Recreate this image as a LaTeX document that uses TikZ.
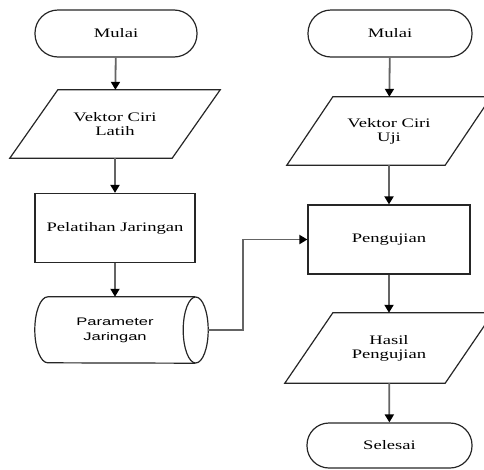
\documentclass[tikz,border=0pt]{standalone}
\usepackage{fontspec}
\setmainfont{Liberation Serif}[FakeStretch=1.43]
\newfontfamily\cylfont{Liberation Sans}[FakeStretch=1.5]
\usetikzlibrary{arrows.meta}
\begin{document}
\begin{tikzpicture}[x=1pt,y=-1pt,
  box/.style={draw=black!85,line width=1.2pt},
  txt/.style={font=\fontsize{13}{14}\selectfont,align=center,inner sep=0pt},
  term/.style={box,txt,rounded corners=23pt,minimum width=162pt,minimum height=47pt},
  proc/.style={box,txt,minimum width=160pt,minimum height=69pt},
  para/.style={txt,minimum width=160pt,minimum height=68pt},
  conn/.style={draw={rgb,255:red,100;green,100;blue,100},line width=1.8pt,
    -{Triangle[length=8pt,width=9pt,fill=black,color=black]}}]
\useasboundingbox (0,0) rectangle (484,469);
% left column
\node[term] (m1) at (116,33.5) {Mulai};
\node[para,minimum width=162pt] (lat) at (115,124) {Vektor Ciri\\Latih};
\draw[box] ([xshift=24pt]lat.north west) -- ([xshift=24pt]lat.north east)
  -- ([xshift=-24pt]lat.south east) -- ([xshift=-24pt]lat.south west) -- cycle;
\node[proc] (pel) at (115,228) {Pelatihan Jaringan};
\node[minimum width=160pt,minimum height=66pt,inner sep=0pt,
  font=\cylfont\fontsize{11}{15}\selectfont,align=center] (cyl) at (115,330) {Parameter\\Jaringan};
\draw[box] (cyl.north east) -- ([xshift=13pt]cyl.north west)
  arc[start angle=-90,end angle=-270,x radius=13,y radius=33] -- (cyl.south east);
\draw[box] ([xshift=0.5pt]cyl.east) ellipse[x radius=12.5,y radius=33];
% right column
\node[term,minimum width=164pt] (m2) at (390,33.5) {Mulai};
\node[para,minimum width=158pt] (uji) at (389,131) {Vektor Ciri\\Uji};
\draw[box] ([xshift=23pt]uji.north west) -- ([xshift=23pt]uji.north east)
  -- ([xshift=-23pt]uji.south east) -- ([xshift=-23pt]uji.south west) -- cycle;
\node[proc,minimum width=162pt] (peng) at (389,239.5) {Pengujian};
\node[para,minimum height=70pt] (has) at (389,348) {Hasil\\Pengujian};
\draw[box] ([xshift=24pt]has.north west) -- ([xshift=24pt]has.north east)
  -- ([xshift=-24pt]has.south east) -- ([xshift=-24pt]has.south west) -- cycle;
\node[term,minimum width=165pt,minimum height=45pt,rounded corners=22pt] (sel) at (389.5,445.5) {Selesai};
% connectors
\draw[conn] (m1) -- (lat);
\draw[conn] (lat) -- (pel);
\draw[conn] (pel) -- (cyl);
\draw[conn] (m2) -- (uji);
\draw[conn] (uji) -- (peng);
\draw[conn] (peng) -- (has);
\draw[conn] (has) -- (sel);
\coordinate (cylr) at ([xshift=13pt]cyl.east);
\draw[conn] (cylr) -- ++(35,0) |- (peng.west);
\end{tikzpicture}
\end{document}
